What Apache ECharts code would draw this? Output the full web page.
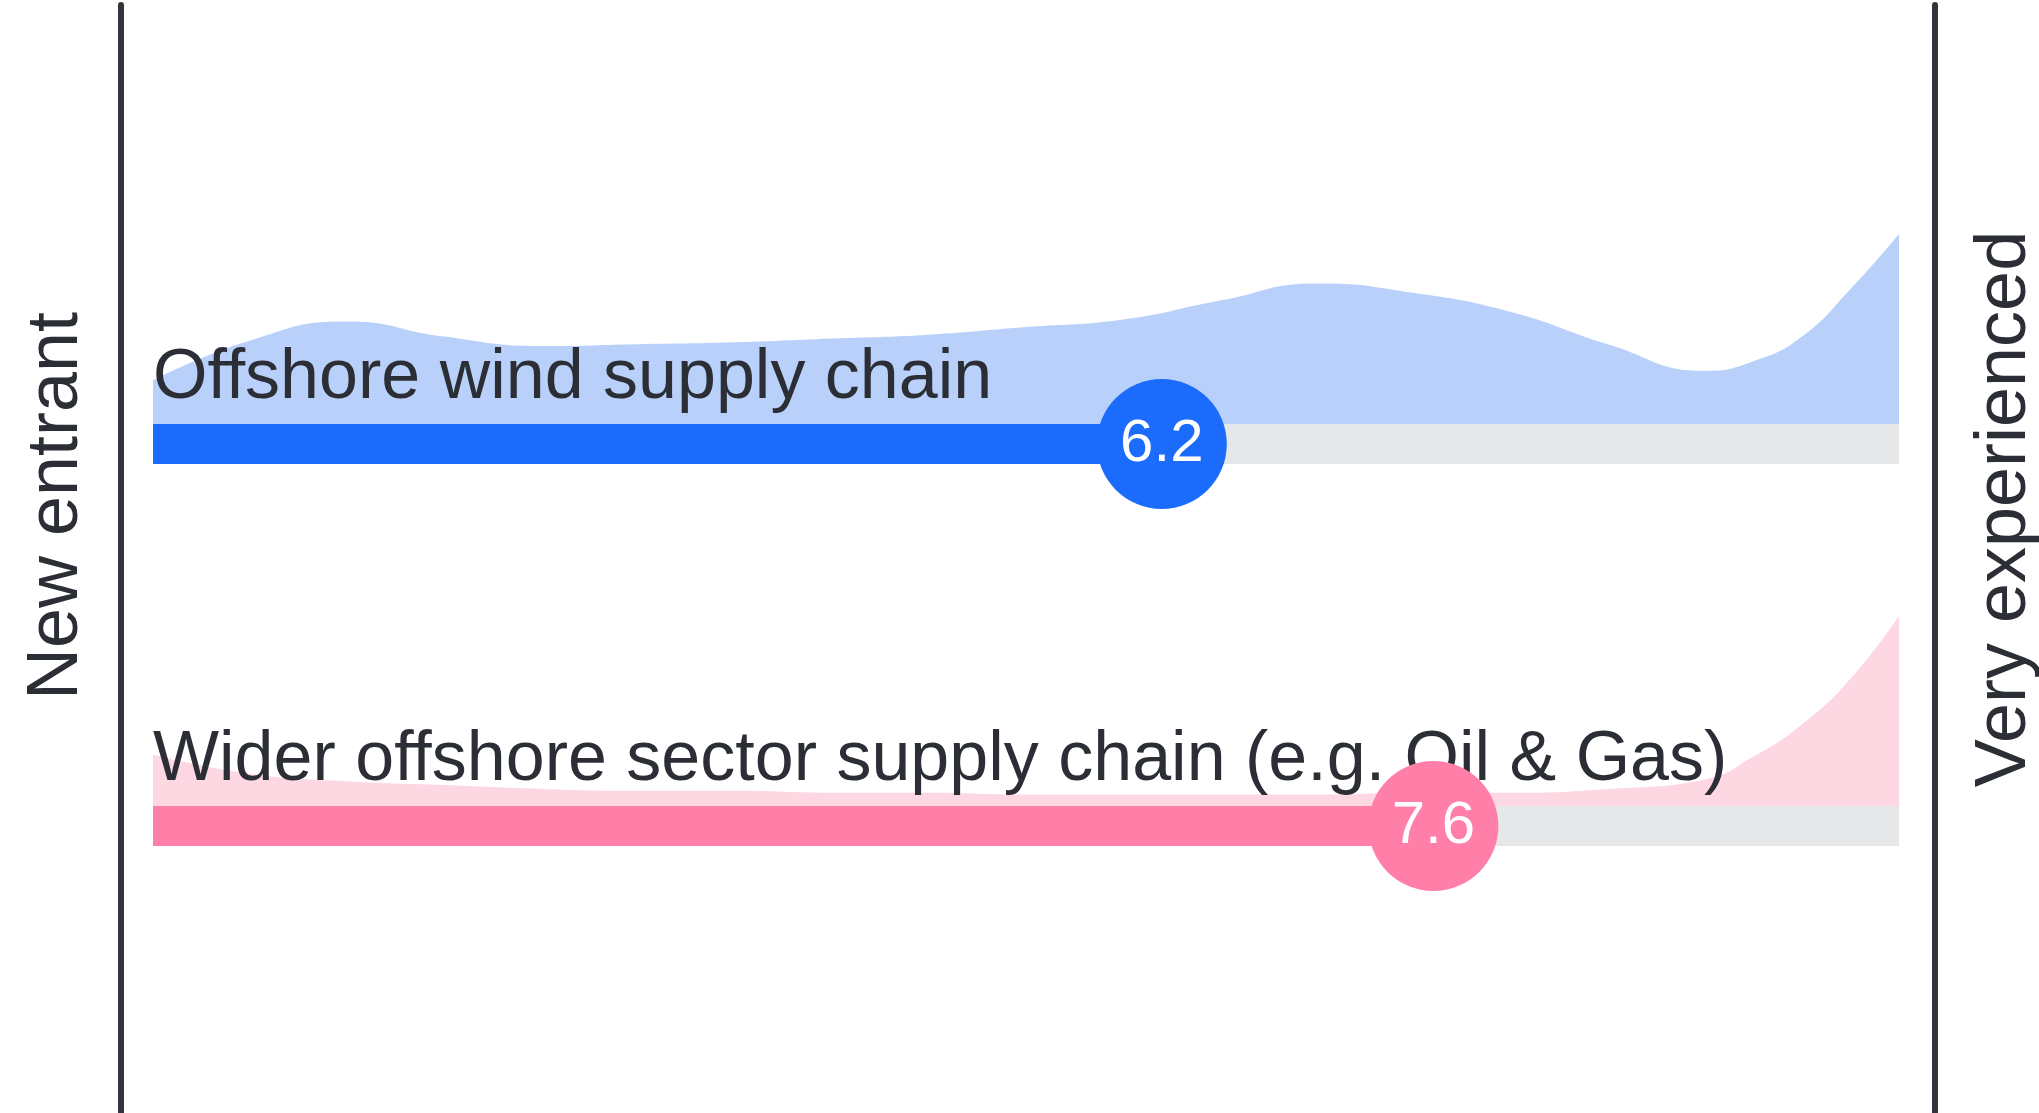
<!DOCTYPE html>
<html>
<head>
<meta charset="utf-8">
<title>Supply chain experience</title>
<script src="https://cdn.jsdelivr.net/npm/echarts@6/dist/echarts.min.js"></script>
<style>
  html, body { margin: 0; padding: 0; background: #fff; overflow: hidden; }
  #chart { width: 2039px; height: 1113px; }
</style>
</head>
<body>
<div id="chart"></div>
<script>
// experience score scale, 1 = new entrant, 10 = very experienced
var scaleMin = 1;
var scaleMax = 10;
var endLabels = ['New entrant', 'Very experienced'];

// rows
var rowNames = ['Offshore wind supply chain', 'Wider offshore sector supply chain (e.g. Oil & Gas)'];
var rowScores = [6.2, 7.6];

// distribution of answers along the scale (relative, peak = 100)
var scoreSteps     = [1, 1.5, 2, 2.5, 3, 3.5, 4, 4.5, 5, 5.5, 6, 6.5, 7, 7.5, 8, 8.5, 9, 9.25, 9.5, 9.75, 10];
var windDensity    = [23, 44, 54, 46, 41, 42, 43, 45, 47, 51, 55, 65, 74, 69, 59, 42, 28, 33, 46, 71, 100];
var widerDensity   = [27, 17, 13, 11, 9, 8, 8, 7, 7, 6, 6, 6, 6, 7, 7, 9, 14, 26, 43, 67, 100];

var palette = [
  { bar: '#1b6cfc', area: '#b9d1fa' },
  { bar: '#ff7fa8', area: '#fdd7e2' }
];
var trackColor = '#e5e7e9';
var inkColor = '#2b2e35';
var font = "'Liberation Sans', Arial, sans-serif";

function pairs(xs, ys) {
  var out = [];
  for (var i = 0; i < xs.length; i++) { out.push([xs[i], ys[i]]); }
  return out;
}

var densities = [windDensity, widerDensity];
var barTops = [424, 806];
var barHeight = 40;
var areaHeight = 190;
var plotLeft = 153;
var plotRight = 140;

// grid 0 only carries the two dark end lines
var grids = [{ left: 121, right: 104, top: 5, bottom: 0 }];
var xAxes = [{ gridIndex: 0, type: 'value', min: 0, max: 1, show: false }];
var frameAxis = {
  gridIndex: 0, type: 'value', min: 0, max: 1,
  axisLine: { show: true, onZero: false, lineStyle: { color: '#32353b', width: 6 } },
  axisTick: { show: false }, axisLabel: { show: false }, splitLine: { show: false }
};
var yAxes = [
  Object.assign({ position: 'left' }, frameAxis),
  Object.assign({ position: 'right' }, frameAxis)
];
var series = [];
var graphics = [];

for (var r = 0; r < rowNames.length; r++) {
  var areaGrid = grids.length;
  grids.push({ left: plotLeft, right: plotRight, top: barTops[r] - areaHeight, height: areaHeight });
  grids.push({ left: plotLeft, right: plotRight, top: barTops[r], height: barHeight });

  xAxes.push({ gridIndex: areaGrid, type: 'value', min: scaleMin, max: scaleMax, show: false });
  xAxes.push({ gridIndex: areaGrid + 1, type: 'value', min: scaleMin, max: scaleMax, show: false });
  yAxes.push({ gridIndex: areaGrid, type: 'value', min: 0, max: 100, show: false });
  yAxes.push({ gridIndex: areaGrid + 1, type: 'category', data: [rowNames[r]], show: false });

  // yAxis index is one ahead of the grid index (two frame axes first)
  series.push({
    type: 'line', name: rowNames[r] + ' distribution',
    xAxisIndex: areaGrid, yAxisIndex: areaGrid + 1,
    data: pairs(scoreSteps, densities[r]),
    smooth: 0.5, symbol: 'none', z: 1, silent: true,
    lineStyle: { width: 0 },
    areaStyle: { color: palette[r].area, opacity: 1 }
  });
  series.push({
    type: 'bar', name: 'track',
    xAxisIndex: areaGrid + 1, yAxisIndex: areaGrid + 2,
    data: [scaleMax], barWidth: '100%', z: 2, silent: true,
    itemStyle: { color: trackColor }
  });
  series.push({
    type: 'bar', name: rowNames[r],
    xAxisIndex: areaGrid + 1, yAxisIndex: areaGrid + 2,
    data: [rowScores[r]], barWidth: '100%', barGap: '-100%', z: 3, silent: true,
    itemStyle: { color: palette[r].bar }
  });
  series.push({
    type: 'scatter', name: rowNames[r] + ' score',
    xAxisIndex: areaGrid + 1, yAxisIndex: areaGrid + 2,
    data: [[rowScores[r], 0]], symbolSize: 130, z: 10, silent: true,
    itemStyle: { color: palette[r].bar, opacity: 1 },
    label: {
      show: true, position: 'inside', color: '#fff', fontSize: 60, fontFamily: font,
      formatter: function (p) { return p.value[0].toFixed(1); }
    }
  });

  graphics.push({
    type: 'text', x: plotLeft, y: barTops[r] - 45, z: 5, silent: true,
    style: { text: rowNames[r], fill: inkColor, font: '70px ' + font, align: 'left', verticalAlign: 'middle' }
  });
}

graphics.push({
  type: 'text', x: 57, y: 506, rotation: Math.PI / 2, z: 5, silent: true,
  style: { text: endLabels[0], fill: inkColor, font: '72px ' + font, align: 'center', verticalAlign: 'middle' }
});
graphics.push({
  type: 'text', x: 2005, y: 509, rotation: Math.PI / 2, z: 5, silent: true,
  style: { text: endLabels[1], fill: inkColor, font: '72px ' + font, align: 'center', verticalAlign: 'middle' }
});

var chart = echarts.init(document.getElementById('chart'));
chart.setOption({
  backgroundColor: '#fff',
  animation: false,
  grid: grids,
  xAxis: xAxes,
  yAxis: yAxes,
  series: series,
  graphic: graphics
});
</script>
</body>
</html>
